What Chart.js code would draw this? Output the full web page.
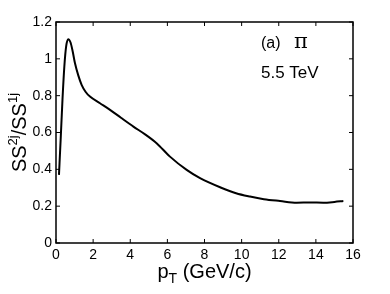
<!DOCTYPE html>
<html lang="en">
<head>
    <meta charset="UTF-8">
    <title>SS ratio vs pT</title>
    <style>
        body { margin: 0; background: #fff; }
        #wrap { width: 390px; height: 294px; position: relative; }
    </style>
</head>
<body>
    <div id="wrap"><canvas id="ratioChart"></canvas></div>

    <script src="https://cdn.jsdelivr.net/npm/chart.js"></script>
    <script>
        // values
        const pT = [0.16, 0.25, 0.35, 0.45, 0.55, 0.66, 0.78, 0.9, 1.02, 1.2, 1.38, 1.6, 1.83,
                    2.37, 2.91, 3.5, 4.17, 4.8, 5.42, 6.14, 7.04, 7.76, 8.9, 9.7, 10.45,
                    11.2, 12.07, 12.97, 13.7, 14.4, 15.0, 15.48];
        const ratio = [0.37, 0.56, 0.78, 0.96, 1.07, 1.107, 1.09, 1.04, 0.977, 0.91, 0.859, 0.82, 0.795,
                       0.759, 0.723, 0.68, 0.632, 0.59, 0.542, 0.469, 0.397, 0.352, 0.30, 0.27, 0.252,
                       0.238, 0.228, 0.219, 0.22, 0.219, 0.223, 0.228];
        const xTicks = [0, 2, 4, 6, 8, 10, 12, 14, 16];
        const yTicks = [0, 0.2, 0.4, 0.6, 0.8, 1, 1.2];
        const FONT = 'Liberation Sans, Arial, sans-serif';

        // box, inward ticks, axis titles and labels
        const frame = {
            id: 'frame',
            afterDraw(chart) {
                const ctx = chart.ctx;
                const a = chart.chartArea;
                const xs = chart.scales.x, ys = chart.scales.y;
                ctx.save();
                ctx.strokeStyle = '#000';
                ctx.lineWidth = 1.5;
                ctx.strokeRect(a.left, a.top, a.right - a.left, a.bottom - a.top);
                ctx.lineWidth = 1;
                ctx.beginPath();
                xTicks.forEach(v => {
                    const px = xs.getPixelForValue(v);
                    ctx.moveTo(px, a.bottom); ctx.lineTo(px, a.bottom - 4);
                    ctx.moveTo(px, a.top); ctx.lineTo(px, a.top + 4);
                });
                yTicks.forEach(v => {
                    const py = ys.getPixelForValue(v);
                    ctx.moveTo(a.left, py); ctx.lineTo(a.left + 4, py);
                    ctx.moveTo(a.right, py); ctx.lineTo(a.right - 4, py);
                });
                ctx.stroke();

                ctx.fillStyle = '#000';
                ctx.textBaseline = 'alphabetic';

                // x title: p_T (GeV/c)
                ctx.font = '20px ' + FONT;
                const w1 = ctx.measureText('p').width;
                ctx.font = '14px ' + FONT;
                const w2 = ctx.measureText('T').width;
                ctx.font = '20px ' + FONT;
                const w3 = ctx.measureText(' (GeV/c)').width;
                let x0 = (a.left + a.right) / 2 - (w1 + w2 + w3) / 2;
                const yb = 278;
                ctx.fillText('p', x0, yb);
                ctx.font = '14px ' + FONT;
                ctx.fillText('T', x0 + w1, yb + 5);
                ctx.font = '20px ' + FONT;
                ctx.fillText(' (GeV/c)', x0 + w1 + w2, yb);

                // y title: SS^2j/SS^1j, rotated
                ctx.save();
                ctx.translate(26, (a.top + a.bottom) / 2);
                ctx.rotate(-Math.PI / 2);
                const parts = [['SS', 20, 0], ['2j', 13, -9], ['/SS', 20, 0], ['1j', 13, -9]];
                let total = 0;
                parts.forEach(p => { ctx.font = p[1] + 'px ' + FONT; total += ctx.measureText(p[0]).width; });
                let cx = -total / 2;
                parts.forEach(p => {
                    ctx.font = p[1] + 'px ' + FONT;
                    ctx.fillText(p[0], cx, p[2]);
                    cx += ctx.measureText(p[0]).width;
                });
                ctx.restore();

                // labels inside the panel
                ctx.font = '16px ' + FONT;
                ctx.fillText('(a)', 261, 48);
                ctx.font = '21px DejaVu Serif, serif';
                ctx.fillText('\u03c0', 294, 48);
                ctx.font = '17px ' + FONT;
                ctx.fillText('5.5 TeV', 261, 78);
                ctx.restore();
            }
        };

        new Chart(document.getElementById('ratioChart').getContext('2d'), {
            type: 'line',
            data: {
                datasets: [{
                    data: pT.map((x, i) => ({ x: x, y: ratio[i] })),
                    borderColor: '#000',
                    borderWidth: 2,
                    pointRadius: 0,
                    fill: false,
                    cubicInterpolationMode: 'monotone'
                }]
            },
            options: {
                responsive: true,
                maintainAspectRatio: false,
                animation: false,
                layout: { padding: { top: 22, right: 37, left: 0, bottom: 0 } },
                plugins: { legend: { display: false }, tooltip: { enabled: false } },
                scales: {
                    x: {
                        type: 'linear',
                        min: 0, max: 16,
                        afterBuildTicks: s => { s.ticks = xTicks.map(v => ({ value: v })); },
                        afterFit: s => { s.height = 51; },
                        grid: { display: false, drawTicks: false },
                        border: { display: false },
                        ticks: { color: '#000', font: { family: FONT, size: 14 }, padding: 4, maxRotation: 0 }
                    },
                    y: {
                        min: 0, max: 1.2,
                        afterBuildTicks: s => { s.ticks = yTicks.map(v => ({ value: v })); },
                        afterFit: s => { s.width = 56; },
                        grid: { display: false, drawTicks: false },
                        border: { display: false },
                        ticks: { color: '#000', font: { family: FONT, size: 14 }, padding: 4,
                                 callback: v => String(Math.round(v * 10) / 10) }
                    }
                }
            },
            plugins: [frame]
        });
    </script>
</body>
</html>
